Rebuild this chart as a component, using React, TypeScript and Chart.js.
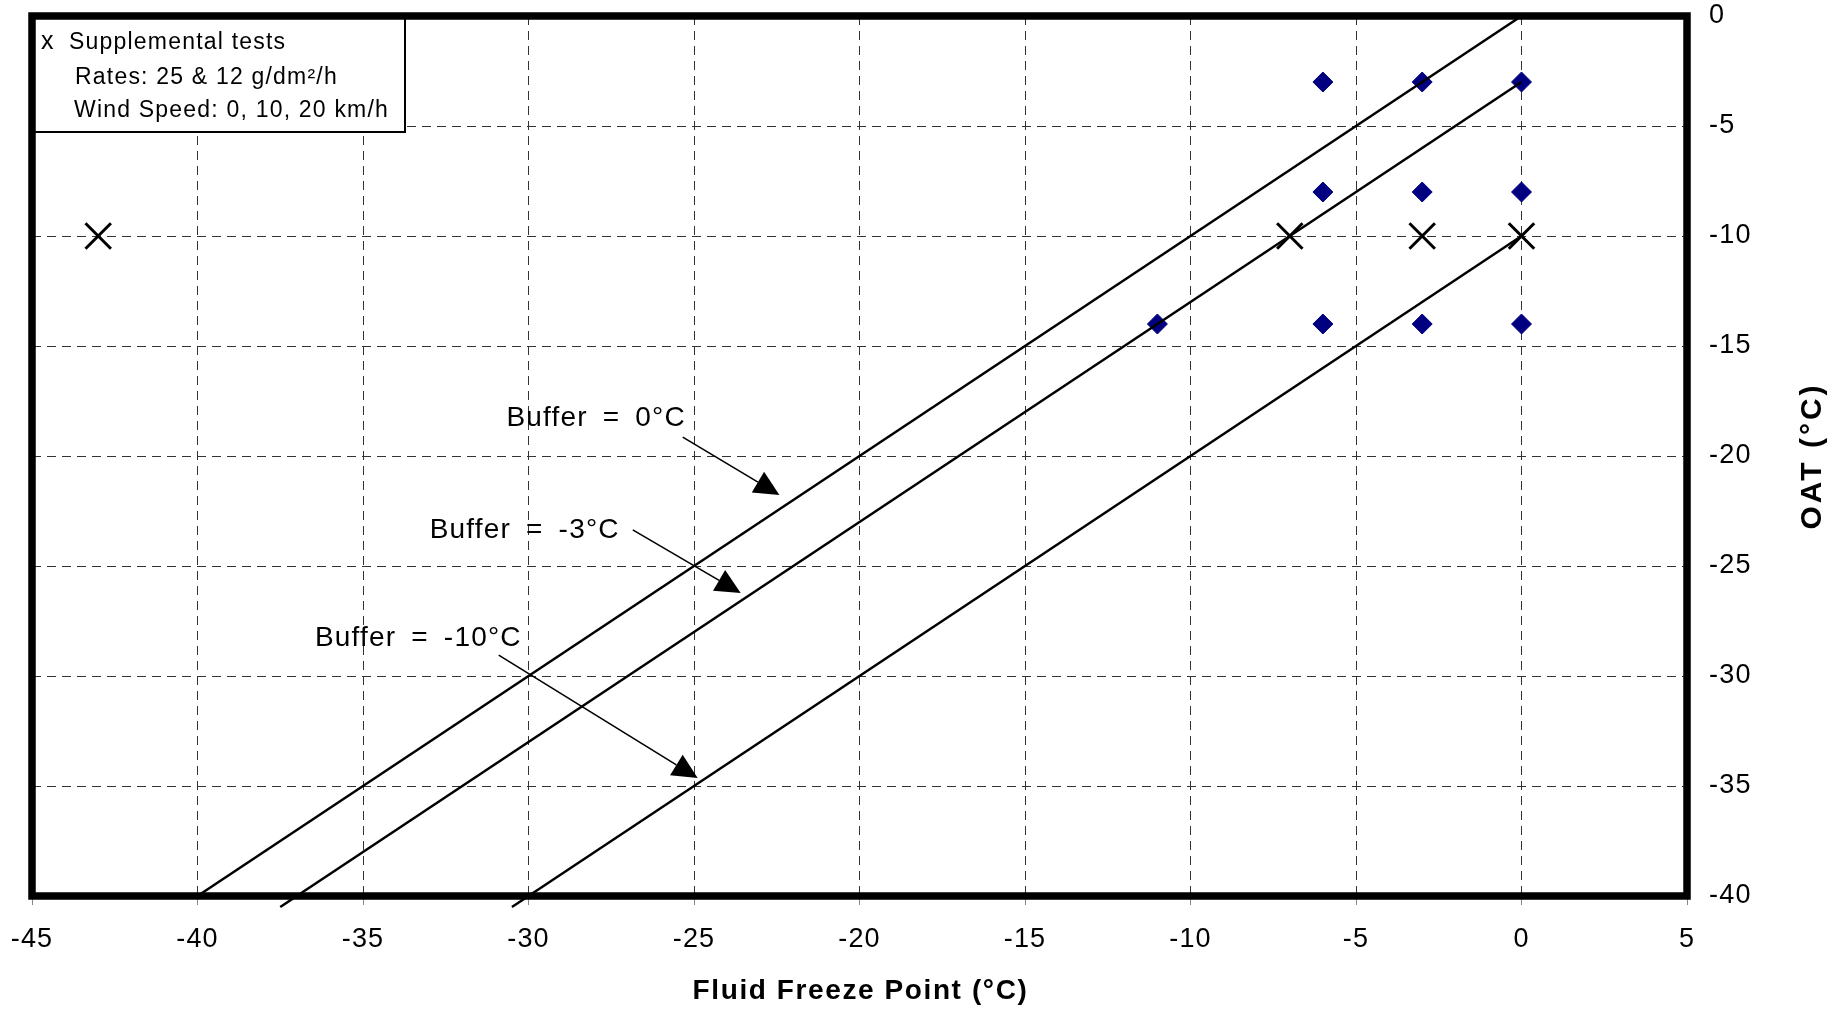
import React, { useEffect, useRef } from 'react';
import { Chart, registerables } from 'chart.js';

Chart.register(...registerables);

// ---- Data ----
const xTickValues = [-45, -40, -35, -30, -25, -20, -15, -10, -5, 0, 5];
const yTickValues = [0, -5, -10, -15, -20, -25, -30, -35, -40];

const diamondX = [-6, -3, 0, -6, -3, 0, -11, -6, -3, 0];
const diamondY = [-3, -3, -3, -8, -8, -8, -14, -14, -14, -14];

const crossX = [-43, -7, -3, 0];
const crossY = [-10, -10, -10, -10];

const buffer0X = [-40, 0];
const buffer0Y = [-40, 0];
const buffer3X = [-37.5, 0];
const buffer3Y = [-40.5, -3];
const buffer10X = [-30.5, 0];
const buffer10Y = [-40.5, -10];

const annotationLabels = ['Buffer = 0\u00B0C', 'Buffer = -3\u00B0C', 'Buffer = -10\u00B0C'];
const annotationTextX = [-25.28, -27.28, -30.24];
const annotationTextY = [-18.27, -23.36, -28.27];
const arrowFromX = [-25.34, -26.85, -30.9];
const arrowFromY = [-19.14, -23.36, -29.05];
const arrowToX = [-22.42, -23.59, -24.89];
const arrowToY = [-21.77, -26.23, -34.64];

const legendMarker = 'x';
const legendLines = ['Supplemental tests', 'Rates: 25 & 12 g/dm\u00B2/h', 'Wind Speed: 0, 10, 20 km/h'];

const xTitle = 'Fluid Freeze Point (\u00B0C)';
const yTitle = 'OAT (\u00B0C)';

const FONT = '"Liberation Sans", Arial, Helvetica, sans-serif';

const toPts = (xs: number[], ys: number[]) => xs.map((x, i) => ({ x, y: ys[i] }));

const noPad = (s: any) => {
  s.paddingTop = 0;
  s.paddingBottom = 0;
  s.paddingLeft = 0;
  s.paddingRight = 0;
};

export default function App() {
  const ref = useRef<HTMLCanvasElement>(null);

  useEffect(() => {
    const canvas = ref.current!;
    const setLS = (chart: any) => {
      (chart.ctx as any).letterSpacing = '1.2px';
      (chart.ctx as any).wordSpacing = '0px';
    };

    const overlay = {
      id: 'overlay',
      beforeUpdate: setLS,
      beforeDraw: setLS,
      afterDraw(chart: any) {
        const { ctx, chartArea: a, scales } = chart;
        const xs = scales.x;
        const ys = scales.y;
        ctx.save();
        ctx.fillStyle = '#000';
        ctx.strokeStyle = '#000';

        // annotations with arrows
        ctx.font = `28px ${FONT}`;
        (ctx as any).letterSpacing = '1.2px';
        (ctx as any).wordSpacing = '6px';
        ctx.textAlign = 'right';
        ctx.textBaseline = 'middle';
        for (let i = 0; i < annotationLabels.length; i++) {
          ctx.fillText(annotationLabels[i], xs.getPixelForValue(annotationTextX[i]) + 1.2, ys.getPixelForValue(annotationTextY[i]));
          const x0 = xs.getPixelForValue(arrowFromX[i]);
          const y0 = ys.getPixelForValue(arrowFromY[i]);
          const x1 = xs.getPixelForValue(arrowToX[i]);
          const y1 = ys.getPixelForValue(arrowToY[i]);
          const ang = Math.atan2(y1 - y0, x1 - x0);
          const len = 25;
          const hw = 12;
          const bx = x1 - len * Math.cos(ang);
          const by = y1 - len * Math.sin(ang);
          ctx.lineWidth = 1.6;
          ctx.beginPath();
          ctx.moveTo(x0, y0);
          ctx.lineTo(bx, by);
          ctx.stroke();
          ctx.beginPath();
          ctx.moveTo(x1, y1);
          ctx.lineTo(bx + hw * Math.sin(ang), by - hw * Math.cos(ang));
          ctx.lineTo(bx - hw * Math.sin(ang), by + hw * Math.cos(ang));
          ctx.closePath();
          ctx.fill();
        }
        (ctx as any).wordSpacing = '0px';

        // legend box
        const lw = 373;
        const lh = 116;
        ctx.fillStyle = '#fff';
        ctx.fillRect(a.left, a.top, lw, lh);
        ctx.lineWidth = 2;
        ctx.strokeStyle = '#000';
        ctx.strokeRect(a.left, a.top, lw, lh);
        ctx.fillStyle = '#000';
        (ctx as any).letterSpacing = '1.2px';
        ctx.textAlign = 'left';
        ctx.textBaseline = 'middle';
        ctx.font = `25px ${FONT}`;
        ctx.fillText(legendMarker, a.left + 9, a.top + 26);
        ctx.font = `23px ${FONT}`;
        ctx.fillText(legendLines[0], a.left + 37, a.top + 27);
        ctx.fillText(legendLines[1], a.left + 43, a.top + 62);
        ctx.fillText(legendLines[2], a.left + 42, a.top + 95);

        // frame
        ctx.lineWidth = 7.5;
        ctx.strokeRect(a.left, a.top, a.right - a.left, a.bottom - a.top);

        // axis titles
        ctx.font = `bold 28px ${FONT}`;
        (ctx as any).letterSpacing = '1.6px';
        ctx.textAlign = 'center';
        ctx.textBaseline = 'middle';
        ctx.fillText(xTitle, (a.left + a.right) / 2 + 1, 991);
        ctx.font = `bold 30px ${FONT}`;
        (ctx as any).letterSpacing = '3px';
        ctx.save();
        ctx.translate(1813, 456);
        ctx.rotate(-Math.PI / 2);
        ctx.fillText(yTitle, 0, 0);
        ctx.restore();

        ctx.restore();
      },
    };

    const lineStyle = {
      showLine: true,
      borderColor: '#000',
      borderWidth: 2.5,
      pointRadius: 0,
      fill: false,
      clip: false as any,
    };

    const chart = new Chart(canvas, {
      type: 'scatter',
      data: {
        datasets: [
          { label: 'Buffer 0', data: toPts(buffer0X, buffer0Y), ...lineStyle },
          { label: 'Buffer -3', data: toPts(buffer3X, buffer3Y), ...lineStyle },
          { label: 'Buffer -10', data: toPts(buffer10X, buffer10Y), ...lineStyle },
          {
            label: 'Tests',
            data: toPts(diamondX, diamondY),
            pointStyle: 'rectRot',
            pointRadius: 10,
            backgroundColor: '#000080',
            borderColor: '#000080',
            borderWidth: 1,
          },
          {
            label: 'Supplemental tests',
            data: toPts(crossX, crossY),
            pointStyle: 'crossRot',
            pointRadius: 18,
            borderColor: '#000',
            borderWidth: 3,
          },
        ],
      },
      options: {
        animation: false,
        responsive: false,
        maintainAspectRatio: false,
        layout: { autoPadding: false, padding: { left: 32, top: 16, right: 0, bottom: 0 } },
        plugins: {
          legend: { display: false },
          tooltip: { enabled: false },
          title: { display: false },
        },
        scales: {
          x: {
            type: 'linear',
            position: 'bottom',
            min: -45,
            max: 5,
            afterFit: (s: any) => {
              s.height = 113;
              noPad(s);
            },
            afterBuildTicks: (s: any) => {
              s.ticks = xTickValues.map((v) => ({ value: v }));
            },
            ticks: {
              color: '#000',
              font: { family: FONT, size: 27 },
              padding: 18,
              maxRotation: 0,
              autoSkip: false,
            },
            grid: {
              color: '#333',
              lineWidth: 1,
              drawTicks: true,
              tickLength: 9,
              tickColor: '#888',
            },
            border: { display: false, dash: [9, 6] },
          },
          y: {
            type: 'linear',
            position: 'right',
            min: -40,
            max: 0,
            afterFit: (s: any) => {
              s.width = 161;
              noPad(s);
            },
            afterBuildTicks: (s: any) => {
              s.ticks = yTickValues.map((v) => ({ value: v }));
            },
            ticks: {
              color: '#000',
              font: { family: FONT, size: 27 },
              padding: 22,
              autoSkip: false,
            },
            grid: {
              color: '#333',
              lineWidth: 1,
              drawTicks: false,
            },
            border: { display: false, dash: [9, 6] },
          },
        },
      },
      plugins: [overlay],
    });

    return () => chart.destroy();
  }, []);

  return (
    <div style={{ position: 'fixed', left: 0, top: 0, width: 1848, height: 1009, background: '#fff' }}>
      <canvas ref={ref} width={1848} height={1009} style={{ display: 'block', width: 1848, height: 1009 }} />
    </div>
  );
}
